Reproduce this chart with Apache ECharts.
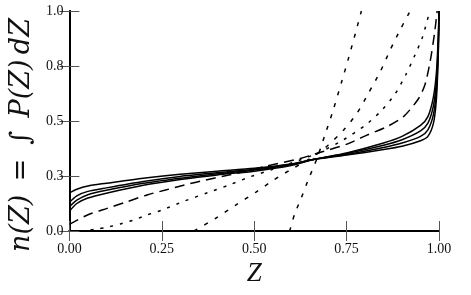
<!DOCTYPE html>
<html>
<head>
<meta charset="utf-8">
<script src="https://cdn.jsdelivr.net/npm/echarts@6/dist/echarts.min.js"></script>
<style>
html,body{margin:0;padding:0;background:#fff;}
#chart{width:471px;height:295px;}
</style>
</head>
<body>
<div id="chart"></div>
<script>
// Tick labels
const xTickLabels = ['0.00', '0.25', '0.50', '0.75', '1.00'];
const yTickLabels = ['0.0', '0.3', '0.5', '0.8', '1.0'];

// Curves: [Z, n(Z)]
const curveA = [[0.596,0],[0.61,0.08],[0.625,0.14],[0.648,0.24],[0.67,0.33],[0.693,0.445],[0.711,0.535],[0.738,0.686],[0.756,0.79],[0.774,0.9],[0.79,1.0]];
const curveB = [[0.337,0],[0.396,0.058],[0.45,0.118],[0.504,0.176],[0.553,0.232],[0.6,0.28],[0.657,0.335],[0.70,0.39],[0.742,0.459],[0.778,0.535],[0.809,0.626],[0.841,0.724],[0.868,0.823],[0.895,0.915],[0.922,1.0]];
const curveC = [[0.03,0],[0.071,0.008],[0.102,0.017],[0.138,0.032],[0.174,0.05],[0.21,0.073],[0.25,0.095],[0.311,0.136],[0.374,0.174],[0.432,0.209],[0.49,0.247],[0.55,0.28],[0.62,0.32],[0.68,0.36],[0.742,0.415],[0.80,0.48],[0.84,0.54],[0.88,0.62],[0.91,0.71],[0.935,0.80],[0.955,0.88],[0.975,1.0]];
const curveD = [[0,0.03],[0.049,0.073],[0.102,0.103],[0.156,0.133],[0.21,0.164],[0.26,0.186],[0.311,0.209],[0.369,0.232],[0.419,0.25],[0.473,0.27],[0.526,0.292],[0.625,0.33],[0.684,0.36],[0.751,0.395],[0.805,0.436],[0.859,0.474],[0.904,0.52],[0.944,0.60],[0.962,0.665],[0.976,0.77],[0.988,0.9],[0.995,1.0]];
const solid1 = [[0,0.173],[0.02,0.19],[0.05,0.205],[0.1,0.217],[0.2,0.24],[0.3,0.258],[0.4,0.272],[0.5,0.285],[0.6,0.305],[0.66,0.325],[0.75,0.345],[0.85,0.37],[0.9,0.385],[0.95,0.41],[0.97,0.43],[0.985,0.49],[0.993,0.6],[0.998,0.8],[1.0,1.0]];
const solid2 = [[0,0.13],[0.02,0.16],[0.05,0.18],[0.1,0.196],[0.2,0.225],[0.3,0.248],[0.4,0.265],[0.5,0.281],[0.6,0.303],[0.66,0.325],[0.75,0.348],[0.85,0.38],[0.9,0.40],[0.95,0.43],[0.97,0.46],[0.985,0.53],[0.993,0.64],[0.998,0.82],[1.0,1.0]];
const solid3 = [[0,0.11],[0.02,0.14],[0.05,0.165],[0.1,0.185],[0.2,0.217],[0.3,0.24],[0.4,0.26],[0.5,0.277],[0.6,0.301],[0.66,0.325],[0.75,0.352],[0.85,0.39],[0.9,0.415],[0.95,0.455],[0.97,0.49],[0.985,0.57],[0.993,0.68],[0.998,0.85],[1.0,1.0]];
const solid4 = [[0,0.09],[0.02,0.125],[0.05,0.15],[0.1,0.172],[0.2,0.208],[0.3,0.234],[0.4,0.255],[0.5,0.272],[0.6,0.298],[0.66,0.325],[0.75,0.355],[0.85,0.40],[0.9,0.43],[0.95,0.48],[0.97,0.52],[0.985,0.61],[0.993,0.72],[0.998,0.88],[1.0,1.0]];

const chart = echarts.init(document.getElementById('chart'), null, {renderer: 'canvas'});

const serif = 'Liberation Serif, Times New Roman, serif';
const mathSerif = 'DejaVu Serif, serif';
const tickStyle = {show: true, inside: true, length: 10, lineStyle: {color: '#555', width: 1}};
const lineAxis = {show: true, lineStyle: {color: '#000', width: 2}};

function mk(name, data, type, dash) {
  return {
    name: name, type: 'line', data: data, showSymbol: false, symbol: 'none',
    smooth: 0.25, clip: true, silent: true,
    lineStyle: {color: '#000', width: 1.5, type: dash ? dash : type},
    z: 2
  };
}

chart.setOption({
  animation: false,
  backgroundColor: '#fff',
  grid: {left: 68, right: 32, top: 11, bottom: 64},
  xAxis: [{
    type: 'value', min: 0, max: 1, interval: 0.25,
    axisLine: lineAxis, axisTick: tickStyle, splitLine: {show: false},
    axisLabel: {
      color: '#111', fontFamily: serif, fontSize: 14, margin: 11,
      formatter: function (v) { return xTickLabels[Math.round(v / 0.25)]; }
    },
    name: 'Z', nameLocation: 'middle', nameGap: 28,
    nameTextStyle: {fontFamily: serif, fontStyle: 'italic', fontSize: 27, color: '#111'}
  }, {
    type: 'value', position: 'top', min: 0, max: 1, interval: 0.25,
    axisLine: lineAxis, axisTick: tickStyle, splitLine: {show: false},
    axisLabel: {show: false}
  }],
  yAxis: [{
    type: 'value', min: 0, max: 1, interval: 0.25,
    axisLine: lineAxis, axisTick: tickStyle, splitLine: {show: false},
    axisLabel: {
      color: '#111', fontFamily: serif, fontSize: 14, margin: 6,
      formatter: function (v) { return yTickLabels[Math.round(v / 0.25)]; }
    },
    name: 'n(Z)\u2002=\u2002\u222B\u2002P(Z)\u2009dZ', nameLocation: 'middle', nameGap: 34, nameRotate: 90,
    nameTextStyle: {fontFamily: mathSerif, fontStyle: 'italic', fontSize: 27, color: '#111', padding: [0, 28, 0, 0]}
  }, {
    type: 'value', position: 'right', min: 0, max: 1, interval: 0.25,
    axisLine: lineAxis, axisTick: tickStyle, splitLine: {show: false},
    axisLabel: {show: false}
  }],
  series: [
    mk('A', curveA, 'dashed', [4, 8]),
    mk('B', curveB, 'dashed', [4, 8]),
    mk('C', curveC, 'dashed', [3, 7]),
    mk('D', curveD, 'dashed', [10, 6]),
    mk('S1', solid1, 'solid'),
    mk('S2', solid2, 'solid'),
    mk('S3', solid3, 'solid'),
    mk('S4', solid4, 'solid')
  ]
});
</script>
</body>
</html>
